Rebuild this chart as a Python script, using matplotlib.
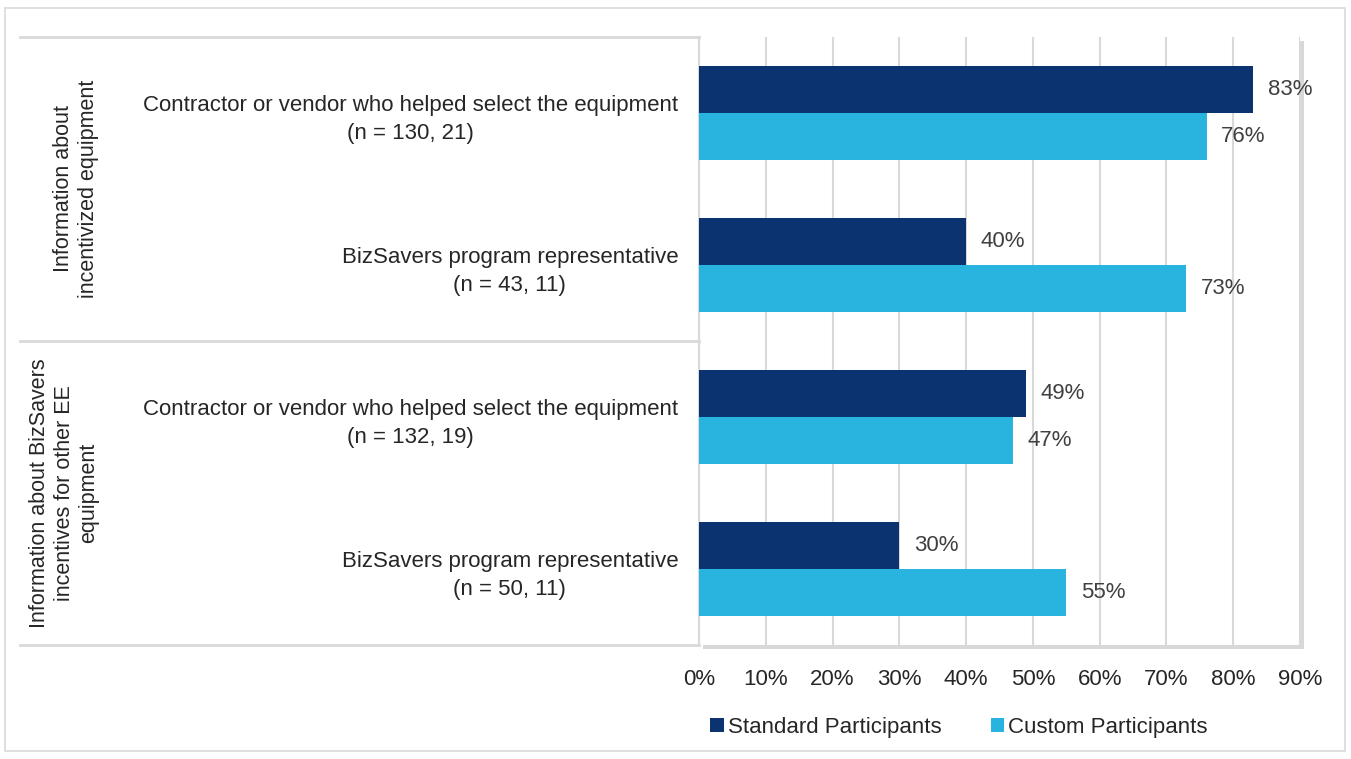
import matplotlib
matplotlib.use("Agg")
from matplotlib import pyplot as plt
from matplotlib import transforms, patheffects as pe
from matplotlib.patches import Rectangle
import numpy as np

categories = [
    "Contractor or vendor who helped select the equipment\n(n = 130, 21)",
    "BizSavers program representative\n(n = 43, 11)",
    "Contractor or vendor who helped select the equipment\n(n = 132, 19)",
    "BizSavers program representative\n(n = 50, 11)",
]
groups = [
    "Information about\nincentivized equipment",
    "Information about BizSavers\nincentives for other EE\nequipment",
]
standard = [0.83, 0.40, 0.49, 0.30]
custom = [0.76, 0.73, 0.47, 0.55]
xticks = [0, 0.1, 0.2, 0.3, 0.4, 0.5, 0.6, 0.7, 0.8, 0.9]

dark = "#0A3370"
light = "#29B4E0"
narrow = ["Liberation Sans Narrow", "Liberation Sans", "DejaVu Sans"]
wide = ["Liberation Sans", "DejaVu Sans"]

W, H = 1351, 759
fig = plt.figure(figsize=(W / 100, H / 100), dpi=100)
fig.patches.append(Rectangle((5 / W, 8 / H), 1340 / W, 743 / H, transform=fig.transFigure,
                             fill=False, ec="#d9d9d9", lw=1.2))

ax = fig.add_axes([699 / W, 1 - 645 / H, 601 / W, 608 / H])
ax.patch.set_path_effects([pe.SimplePatchShadow(offset=(3, -3), shadow_rgbFace="#909090", alpha=0.35),
                           pe.Normal()])

y = np.arange(len(categories))
h = 0.31
ax.barh(y - h / 2, standard, height=h, color=dark, label="Standard Participants", zorder=3)
ax.barh(y + h / 2, custom, height=h, color=light, label="Custom Participants", zorder=3)

for yi, v in zip(y - h / 2, standard):
    ax.text(v + 0.022, yi, f"{v:.0%}", va="center", ha="left", fontsize=16, color="#404040", family=wide)
for yi, v in zip(y + h / 2, custom):
    ax.text(v + 0.022, yi, f"{v:.0%}", va="center", ha="left", fontsize=16, color="#404040", family=wide)

ax.set_xlim(0, 0.9)
ax.set_ylim(3.5, -0.5)
ax.set_xticks(xticks)
ax.set_xticklabels([f"{t:.0%}" for t in xticks], family=narrow, fontsize=16, color="#262626")
ax.set_yticks(y)
ax.set_yticklabels(categories, family=narrow, fontsize=16, color="#262626")
for lab in ax.get_yticklabels():
    lab.set_multialignment("center")
    lab.set_linespacing(1.5)
ax.tick_params(length=0)
ax.tick_params(axis="x", pad=17)
ax.tick_params(axis="y", pad=15)
ax.grid(axis="x", color="#d9d9d9", lw=1.5, zorder=0)
ax.set_axisbelow(True)
for s in ax.spines.values():
    s.set_visible(False)

# table lines on the left
tr = transforms.blended_transform_factory(fig.transFigure, ax.transData)
for yb in [-0.5, 1.5, 3.5]:
    ax.plot([20 / W, 699 / W], [yb, yb], transform=tr, color="#d9d9d9", lw=2, clip_on=False)
ax.plot([699 / W, 699 / W], [-0.5, 3.5], transform=tr, color="#d9d9d9", lw=1.5, clip_on=False)

ax.text(76 / W, 0.5, groups[0], transform=tr, rotation=90, ha="center", va="center",
        multialignment="center", fontsize=15.5, color="#262626", family=wide)
ax.text(64 / W, 2.5, groups[1], transform=tr, rotation=90, ha="center", va="center",
        multialignment="center", fontsize=15.5, color="#262626", family=wide)

fig.legend(loc="center", bbox_to_anchor=(959 / W, 1 - 727 / H), ncol=2, frameon=False,
           prop={"family": narrow, "size": 16}, handlelength=0.6, handleheight=0.6,
           handletextpad=0.2, columnspacing=2.2, labelcolor="#262626")

fig.savefig("out.png", dpi=100)
